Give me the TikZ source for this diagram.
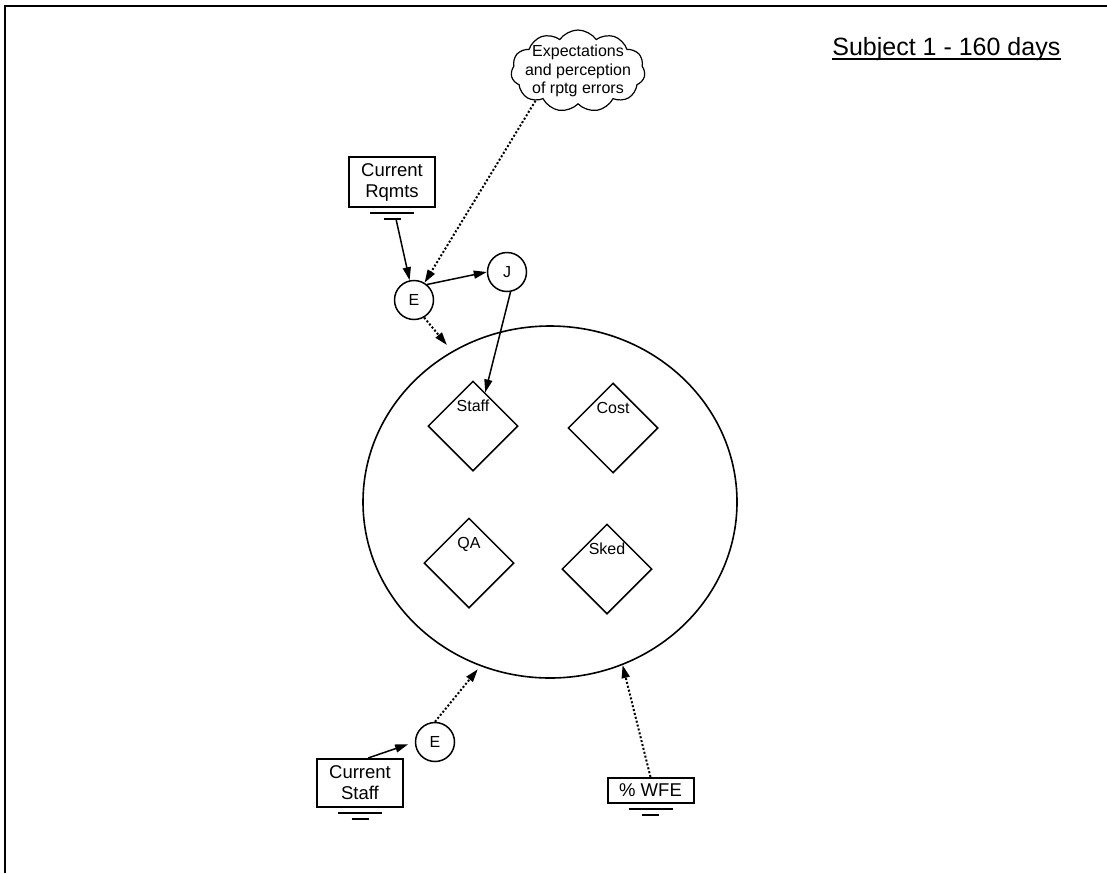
\documentclass[tikz,border=0pt]{standalone}
\usepackage{fontspec}
\setmainfont{Liberation Sans}
\usetikzlibrary{shapes.geometric,shapes.symbols,arrows.meta,calc}

\begin{document}
\begin{tikzpicture}[x=0.5pt,y=-0.5pt,
    tipped/.style={-{Triangle[length=6.5pt,width=4pt]}},
    solidlink/.style={tipped,line width=0.75pt},
    dotlink/.style={tipped,line width=1pt,dash pattern=on 1pt off 1pt},
    srcbox/.style={draw,rectangle,line width=1pt,minimum width=43pt,inner sep=1pt,align=center,
      font=\fontsize{9.25}{10.5}\selectfont},
    judge/.style={draw,circle,line width=0.75pt,minimum size=19.5pt,inner sep=0pt,font=\fontsize{8}{9}\selectfont},
    goal/.style={draw,diamond,line width=0.75pt,minimum width=45pt,minimum height=45pt,inner sep=0pt},
    goaltext/.style={anchor=base,yshift=-15.5pt,inner sep=0pt,font=\fontsize{8}{9}\selectfont},
    gnd/.style={line width=0.8pt}]
  \useasboundingbox (0,0) rectangle (1107,873);
  \draw[line width=0.8pt] (5,873) -- (5,6) -- (1107,6);            % frame

  % title
  \node[anchor=base west,inner sep=0pt,font=\fontsize{12.5}{14}\selectfont] (title) at (832,55) {Subject 1 - 160 days};
  \draw[line width=0.7pt] ($(title.base west)+(0,4)$) -- ($(title.base east)+(0,4)$);

  % outside influences
  \node[draw,cloud,cloud puffs=11,cloud puff arc=110,line width=0.6pt,minimum width=67pt,minimum height=41pt] (cloud) at (578,71) {};
  \node[align=center,inner sep=0pt,font=\fontsize{8}{9.25}\selectfont] (cloudtext) at (cloud.center) {Expectations\\and perception\\of rptg errors};
  \node[srcbox,minimum height=25pt] (rqmts) at (392,182) {Current\\Rqmts};
  \node[srcbox,minimum height=24pt] (cstaff) at (360,783) {Current\\Staff};
  \node[srcbox,minimum height=12.5pt] (wfe) at (650.5,790.5) {\% WFE};
  \foreach \b in {rqmts,cstaff,wfe} {                              % ground marks
    \draw[gnd] ($(\b.south)+(-22,5)$) -- ($(\b.south)+(22,5)$);
    \draw[gnd] ($(\b.south)+(-8.5,11)$) -- ($(\b.south)+(8.5,11)$);
  }
  \coordinate (rqmtsgnd) at ($(rqmts.south)+(4,11)$);

  % judgements
  \node[judge] (e1) at (414,300) {E};
  \node[judge] (j) at (507,272) {J};
  \node[judge] (e2) at (435,742) {E};

  % the goals
  \node[draw,ellipse,line width=0.8pt,minimum width=187pt,minimum height=176pt] (hub) at (550,502) {};
  \node[goal,label={[goaltext]90:Staff}] (staff) at (473,426) {};
  \node[goal,label={[goaltext]90:Cost}] (cost) at (613,428) {};
  \node[goal,label={[goaltext]90:QA}] (qa) at (469,563) {};
  \node[goal,label={[goaltext]90:Sked}] (sked) at (607,569) {};

  % links
  \draw[solidlink] (rqmtsgnd) -- (e1);
  \draw[dotlink] (cloud.215) -- (e1);
  \draw[solidlink] (e1.50) -- (j.west);
  \draw[solidlink] (j.-80) -- (staff.70);
  \draw[dotlink,shorten >=4pt] (e1.-60) -- (hub.123);
  \draw[solidlink,shorten >=3.5pt] (cstaff.72) -- (e2.west);
  \draw[dotlink,shorten >=2pt] (e2.north) -- (hub.-113);
  \draw[dotlink] (wfe.north) -- (hub.-66);
\end{tikzpicture}
\end{document}
